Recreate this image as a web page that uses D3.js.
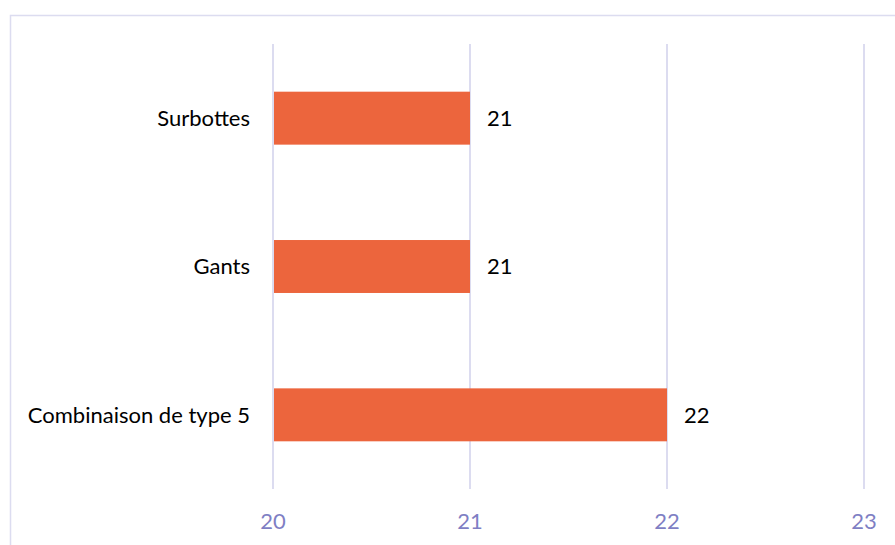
<!DOCTYPE html>
<html><head><meta charset="utf-8">
<script src="https://cdn.jsdelivr.net/npm/d3@7"></script>
<style>body{margin:0;background:#fff}svg{display:block}text{font-family:Lato,"Open Sans","Liberation Sans",sans-serif}</style>
</head><body><svg id="c" width="895" height="545"></svg>
<script>
const categories = ["Surbottes", "Gants", "Combinaison de type 5"];
const values = [21, 21, 22];
const ticks = [20, 21, 22, 23];

const svg = d3.select("#c");
svg.append("rect").attr("x",10.5).attr("y",15.5).attr("width",900).attr("height",540)
  .attr("fill","none").attr("stroke","#dcdcf0").attr("stroke-width",1.5);

const x = d3.scaleLinear().domain([20,23]).range([273,864]);
const y = d3.scaleBand().domain(categories).range([44,489]).paddingInner(0.643).paddingOuter(0.3215);

svg.append("g").selectAll("line").data(ticks).join("line")
  .attr("x1",d=>x(d)).attr("x2",d=>x(d)).attr("y1",44).attr("y2",489)
  .attr("stroke","#dcdcf0").attr("stroke-width",2);

svg.append("g").selectAll("rect").data(categories).join("rect")
  .attr("x",x(20)+1).attr("y",d=>y(d))
  .attr("width",(d,i)=>x(values[i])-x(20)-1).attr("height",y.bandwidth())
  .attr("fill","#ec653d");

svg.append("g").selectAll("text").data(categories).join("text")
  .attr("x",(d,i)=>x(values[i])+17).attr("y",d=>y(d)+y.bandwidth()/2)
  .attr("dy","0.35em").attr("font-size",22).attr("fill","#000")
  .text((d,i)=>values[i]);

svg.append("g").selectAll("text").data(categories).join("text")
  .attr("x",250).attr("y",d=>y(d)+y.bandwidth()/2).attr("text-anchor","end")
  .attr("dy","0.35em").attr("font-size",22).attr("fill","#000").text(d=>d);

svg.append("g").selectAll("text").data(ticks).join("text")
  .attr("x",d=>x(d)).attr("y",521).attr("text-anchor","middle").attr("dy","0.35em")
  .attr("font-size",22).attr("fill","#7f7fc4").text(d=>d);
</script></body></html>
